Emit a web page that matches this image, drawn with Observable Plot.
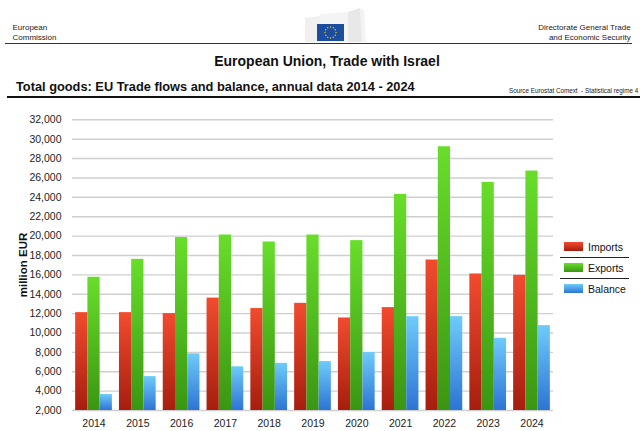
<!DOCTYPE html>
<html>
<head>
<meta charset="utf-8">
<script src="https://cdn.jsdelivr.net/npm/d3@7"></script>
<script src="https://cdn.jsdelivr.net/npm/@observablehq/plot@0.6"></script>
<style>
  html, body { margin: 0; padding: 0; background: #fff; }
  body { width: 640px; height: 431px; overflow: hidden; position: relative;
         font-family: "Liberation Sans", Arial, Helvetica, sans-serif; color: #111; }
  .abs { position: absolute; white-space: nowrap; }
  #chart { position: absolute; left: 0; top: 100px; }
  .sw { position: absolute; width: 19px; height: 8.5px; }
  .lg { position: absolute; font-size: 10.5px; line-height: 10.5px; color: #111; }
  .ln { position: absolute; height: 1px; background: #222; }
</style>
</head>
<body>
<div class="abs" style="left:12.5px; top:23.3px; font-size:8px; line-height:9.3px; color:#222;">European<br>Commission</div>
<div class="abs" style="right:9.3px; top:23.3px; font-size:8px; line-height:9.3px; text-align:right; color:#222;">Directorate General Trade<br>and Economic Security</div>
<svg class="abs" style="left:300px; top:8px;" width="72" height="36" viewBox="0 0 72 36">
  <polygon points="5,10 20,8 20,34 5,34" fill="#f0f0f0"/>
  <polygon points="20,6 48,4 60,0 64,2 66,34 20,34" fill="#f4f4f4"/>
  <polygon points="48,4 60,0 62,34 48,34" fill="#e8e8e8"/>
  <rect x="17" y="16" width="27" height="17" fill="#1d4d9e"/>
  <g id="stars" fill="#f3d000"></g>
</svg>
<div class="ln" style="left:5px; top:43px; width:627px; background:#333;"></div>
<div class="abs" style="left:0; width:654px; text-align:center; top:53.5px; font-size:14px; line-height:14px; font-weight:bold;">European Union, Trade with Israel</div>
<div class="abs" style="left:16px; top:80.8px; font-size:12.8px; line-height:12.8px; font-weight:bold;">Total goods: EU Trade flows and balance, annual data 2014 - 2024</div>
<div class="abs" style="left:509px; top:87.6px; font-size:6.3px; line-height:6.3px; color:#222;">Source Eurostat Comext &nbsp;- Statistical regime 4</div>
<div class="ln" style="left:7px; top:95.5px; width:633px; height:2px; background:#111;"></div>
<div id="chart"></div>
<div class="abs" style="left:24px; top:265px; font-size:11.5px; line-height:11.5px; font-weight:bold; transform: translate(-50%,-50%) rotate(-90deg);">million EUR</div>
<div id="legend"></div>
<script>
// ---- data ----
const years   = ["2014","2015","2016","2017","2018","2019","2020","2021","2022","2023","2024"];
const imports = [12100, 12100, 12000, 13600, 12520, 13060, 11550, 12620, 17530, 16090, 15950];
const exports = [15750, 17600, 19850, 20110, 19390, 20110, 19530, 24300, 29220, 25540, 26710];
const balance = [ 3650,  5500,  7850,  6510,  6870,  7050,  7980, 11680, 11690,  9450, 10760];
const series  = ["Imports", "Exports", "Balance"];
const yTicks  = [2000,4000,6000,8000,10000,12000,14000,16000,18000,20000,22000,24000,26000,28000,30000,32000];

const gradients = {
  Imports: ["#f24b2f", "#a61e0e"],
  Exports: ["#68de2b", "#3a9612"],
  Balance: ["#6fcbfa", "#2d74d4"]
};
const gid = {Imports: "gImp", Exports: "gExp", Balance: "gBal"};
const valuesBySeries = {Imports: imports, Exports: exports, Balance: balance};

const rows = [];
years.forEach((yr, i) => {
  series.forEach(s => rows.push({year: yr, series: s, value: valuesBySeries[s][i]}));
});

// flag stars (logo decoration)
(function(){
  const g = document.getElementById("stars");
  for (let k = 0; k < 12; k++) {
    const a = k * Math.PI / 6;
    const c = document.createElementNS("http://www.w3.org/2000/svg", "circle");
    c.setAttribute("cx", 30.5 + 5.5 * Math.cos(a));
    c.setAttribute("cy", 24.5 + 5.5 * Math.sin(a));
    c.setAttribute("r", 0.7);
    g.appendChild(c);
  }
})();

const W = 640, ML = 72, MR = 87;

function makePlot(third) {
  return Plot.plot({
    width: W,
    height: 331,
    marginLeft: ML,
    marginRight: MR,
    marginTop: 19.3,
    marginBottom: 21,
    style: {fontFamily: "Liberation Sans, Arial, sans-serif", fontSize: "10.5px", color: "#222", background: "transparent"},
    x: {domain: years, paddingInner: 0.162, paddingOuter: 0.072, round: false, tickSize: 0, tickPadding: 9, label: null},
    y: {domain: [2000, 32000], ticks: yTicks, tickFormat: d3.format(","), tickSize: 0, tickPadding: 11, label: null},
    marks: [
      Plot.ruleY(yTicks, {stroke: "#cfcfcf", strokeWidth: 1.4}),
      ...series.map((s, j) => Plot.barY(rows.filter(d => d.series === s), {
        x: "year", y1: 2000, y2: "value",
        fill: `url(#${gid[s]})`,
        insetLeft: j * third,
        insetRight: (2 - j) * third
      }))
    ]
  });
}
// first pass: read the band width of one year group from Plot's own x scale
const bw = makePlot(0).scale("x").bandwidth;
const chart = makePlot(bw / 3);

const svg = d3.select(chart);
const defs = svg.insert("defs", ":first-child");
series.forEach(s => {
  const lg = defs.append("linearGradient").attr("id", gid[s])
    .attr("x1", 0).attr("y1", 0).attr("x2", 0).attr("y2", 1);
  lg.append("stop").attr("offset", "0%").attr("stop-color", gradients[s][0]);
  lg.append("stop").attr("offset", "100%").attr("stop-color", gradients[s][1]);
});
document.getElementById("chart").appendChild(chart);

// legend
const legend = document.getElementById("legend");
series.forEach((s, i) => {
  const top = 242 + i * 21;
  const sw = document.createElement("div");
  sw.className = "sw";
  sw.style.left = "564px";
  sw.style.top = top + "px";
  sw.style.background = `linear-gradient(${gradients[s][0]}, ${gradients[s][1]})`;
  legend.appendChild(sw);
  const lb = document.createElement("div");
  lb.className = "lg";
  lb.style.left = "588px";
  lb.style.top = (top - 0.5) + "px";
  lb.textContent = s;
  legend.appendChild(lb);
  if (i < 2) {
    const ln = document.createElement("div");
    ln.className = "ln";
    ln.style.left = "560px";
    ln.style.width = "69px";
    ln.style.top = (top + 14.5) + "px";
    legend.appendChild(ln);
  }
});
</script>
</body>
</html>
